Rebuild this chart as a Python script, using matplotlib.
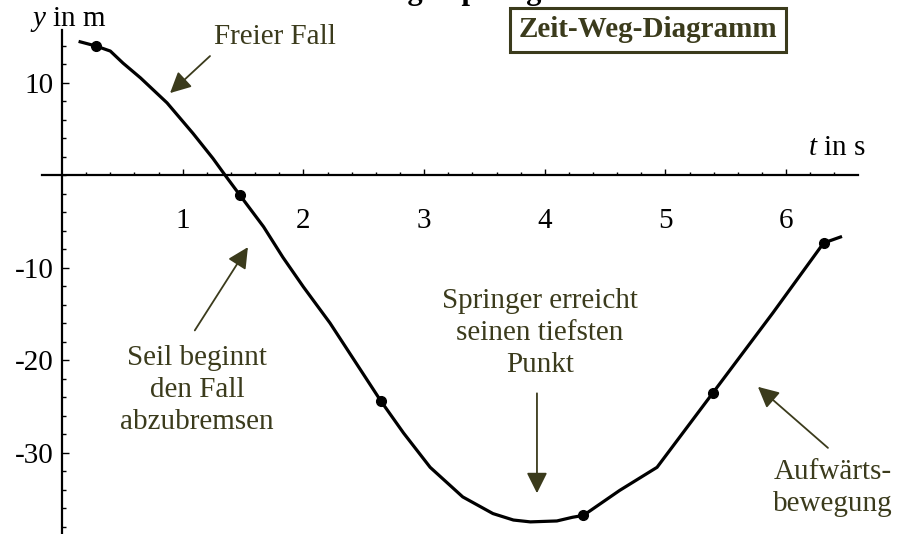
import numpy as np
import matplotlib.pyplot as plt
from matplotlib.ticker import FixedLocator

plt.rcParams.update({
    'font.family': ['Liberation Serif', 'DejaVu Serif'],
    'font.size': 21,
    'mathtext.fontset': 'custom',
    'mathtext.it': 'Liberation Serif:italic',
    'mathtext.rm': 'Liberation Serif',
})

OLIVE = '#3b3b1c'

# Bungee jump: height y (m) over time t (s)
t_curve = [0.15, 0.28, 0.40, 0.505, 0.65, 0.87, 1.085, 1.25, 1.35, 1.475,
           1.67, 1.83, 2.0, 2.22, 2.44, 2.64, 2.83, 3.05, 3.32, 3.57,
           3.74, 3.88, 4.10, 4.23, 4.32, 4.62, 4.93, 5.39, 5.89, 6.31, 6.45]
y_curve = [14.4, 13.95, 13.4, 12.1, 10.5, 7.8, 4.5, 1.8, 0.0, -2.2,
           -5.6, -8.9, -12.1, -16.0, -20.4, -24.4, -27.9, -31.6, -34.8, -36.6,
           -37.3, -37.5, -37.4, -37.0, -36.8, -34.1, -31.6, -23.6, -14.9, -7.35, -6.7]

# measured points marked on the curve
t_dots = [0.28, 1.475, 2.64, 4.32, 5.39, 6.31]
y_dots = [13.95, -2.2, -24.4, -36.8, -23.6, -7.35]

x_major = [1, 2, 3, 4, 5, 6]
y_major = [-30, -20, -10, 10]
y_major_labels = ['-30', '-20', '-10', '10']

fig = plt.figure(figsize=(9, 5.34), dpi=100)
ax = fig.add_axes([0, 0, 1, 1])
ax.set_xlim(-0.514, 6.943)
ax.set_ylim(-38.81, 18.92)

ax.plot(t_curve, y_curve, color='black', lw=2.3, solid_joinstyle='round', zorder=3)
ax.plot(t_dots, y_dots, 'o', color='black', ms=7, zorder=4)

# axes crossing at the origin
for side in ('top', 'right'):
    ax.spines[side].set_visible(False)
ax.spines['left'].set_position(('data', 0))
ax.spines['bottom'].set_position(('data', 0))
ax.spines['left'].set_bounds(-38.81, 15.7)
ax.spines['bottom'].set_bounds(-0.166, 6.595)
for side in ('left', 'bottom'):
    ax.spines[side].set_linewidth(1.6)

ax.set_xticks(x_major)
ax.set_xticklabels([str(v) for v in x_major])
ax.set_yticks(y_major)
ax.set_yticklabels(y_major_labels)
ax.xaxis.set_minor_locator(FixedLocator(np.arange(0.2, 6.5, 0.2)))
ax.yaxis.set_minor_locator(FixedLocator(np.arange(-38, 15, 2)))
ax.tick_params(axis='x', which='major', direction='in', length=4.5, width=1, pad=24)
ax.tick_params(axis='x', which='minor', direction='in', length=2.5, width=1)
ax.tick_params(axis='y', which='major', direction='in', length=5, width=1, pad=6)
ax.tick_params(axis='y', which='minor', direction='in', length=3, width=1)

# axis names
ax.text(-0.265, 16.8, r'$y$ in m', ha='left', va='center')
ax.text(6.18, 2.9, r'$t$ in s', ha='left', va='center')

# title, running off the top edge
fig.text(0.497, 1 + 1 / 534, 'Bungeesprung', ha='center', va='baseline',
         fontsize=22, fontweight='bold')

fig.text(0.72, 0.944, 'Zeit-Weg-Diagramm', ha='center', va='center',
         fontsize=21, fontweight='bold', color=OLIVE,
         bbox=dict(boxstyle='square,pad=0.3', fc='white', ec=OLIVE, lw=2.2))

arrow = dict(arrowstyle='-|>,head_length=0.6,head_width=0.3', color=OLIVE, lw=1.3,
             shrinkA=0, shrinkB=0)

ax.text(1.765, 14.9, 'Freier Fall', ha='center', va='center', color=OLIVE)
ax.annotate('', xy=(0.895, 8.86), xytext=(1.226, 12.86), arrowprops=arrow)

ax.text(1.118, -23.2, 'Seil beginnt\nden Fall\nabzubremsen', ha='center', va='center',
        color=OLIVE, linespacing=1.3)
ax.annotate('', xy=(1.54, -7.8), xytext=(1.10, -16.8), arrowprops=arrow)

ax.text(3.96, -17.1, 'Springer erreicht\nseinen tiefsten\nPunkt', ha='center', va='center',
        color=OLIVE, linespacing=1.3)
ax.annotate('', xy=(3.935, -34.4), xytext=(3.935, -23.6), arrowprops=arrow)

ax.text(6.39, -33.8, 'Aufwärts-\nbewegung', ha='center', va='center',
        color=OLIVE, linespacing=1.3)
ax.annotate('', xy=(5.766, -22.9), xytext=(6.346, -29.5), arrowprops=arrow)

fig.savefig('out.png', dpi=100)
